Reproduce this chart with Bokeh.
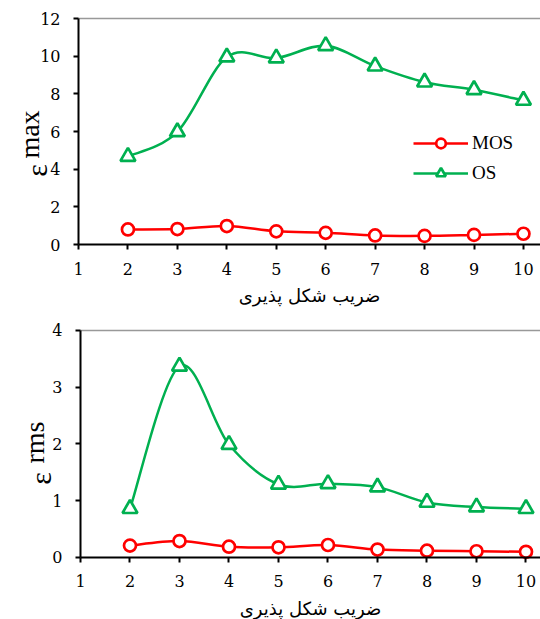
import math
from bokeh.plotting import figure
from bokeh.models import (ColumnDataSource, FixedTicker, Label, Legend, LegendItem, Range1d,
                          LinearAxis)
from bokeh.layouts import column
from bokeh.embed import file_html
from bokeh.resources import INLINE

# ---------------- data ----------------
ductility = [2, 3, 4, 5, 6, 7, 8, 9, 10]
x_ticks = [1, 2, 3, 4, 5, 6, 7, 8, 9, 10]

eps_max_mos = [0.80, 0.82, 0.98, 0.70, 0.62, 0.48, 0.46, 0.51, 0.57]
eps_max_os = [4.67, 5.98, 9.95, 9.90, 10.55, 9.47, 8.62, 8.22, 7.65]

eps_rms_mos = [0.21, 0.29, 0.19, 0.18, 0.22, 0.14, 0.12, 0.11, 0.10]
eps_rms_os = [0.86, 3.37, 1.99, 1.29, 1.30, 1.24, 0.97, 0.89, 0.86]

top_y_ticks = [0, 2, 4, 6, 8, 10, 12]
bottom_y_ticks = [0, 1, 2, 3, 4]

x_label = "ضریب شکل پذیری"
series_names = ["MOS", "OS"]
y_symbol = "ε"
y_subscripts = ["max", "rms"]

RED = "#FF0000"
GREEN = "#00B050"
SERIF = "Liberation Serif"
TICK_FONT = "DejaVu Serif"
X_START = 1
WIDTH = 540


def smooth_segments(xs, ys):
    """Catmull-Rom style cubic Bezier control points (Excel-like smoothing)."""
    n = len(xs)
    d = dict(x0=[], y0=[], x1=[], y1=[], cx0=[], cy0=[], cx1=[], cy1=[])
    for i in range(n - 1):
        im = max(i - 1, 0)
        ip = min(i + 2, n - 1)
        d["x0"].append(xs[i]); d["y0"].append(ys[i])
        d["x1"].append(xs[i + 1]); d["y1"].append(ys[i + 1])
        d["cx0"].append(xs[i] + (xs[i + 1] - xs[im]) / 6.0)
        d["cy0"].append(ys[i] + (ys[i + 1] - ys[im]) / 6.0)
        d["cx1"].append(xs[i + 1] - (xs[ip] - xs[i]) / 6.0)
        d["cy1"].append(ys[i + 1] - (ys[ip] - ys[i]) / 6.0)
    return ColumnDataSource(d)


def style_axis(ax):
    ax.axis_line_color = "black"
    ax.axis_line_width = 2
    ax.major_tick_line_color = "black"
    ax.major_tick_line_width = 2
    ax.major_tick_out = 5
    ax.major_tick_in = 0
    ax.minor_tick_line_color = None
    ax.major_label_text_font = TICK_FONT
    ax.major_label_text_font_size = "16px"
    ax.major_label_text_color = "black"
    ax.major_label_standoff = 13


def make_fig(height, mos, os_, y_end, y_ticks, x_range, y_range,
             sym, sub, sub_text, legend_loc=None):
    p = figure(width=WIDTH, height=height, min_border=0,
               x_range=Range1d(*x_range), y_range=Range1d(*y_range),
               x_axis_location=None, y_axis_location=None,
               output_backend="svg", toolbar_location=None)
    p.outline_line_color = None
    p.grid.visible = False
    p.background_fill_color = "white"
    p.border_fill_color = "white"

    x_end = x_range[1]

    # thin grey top frame line, from the y axis to the right edge
    p.segment(x0=[X_START], y0=[y_end], x1=[x_end], y1=[y_end],
              line_color="#999999", line_width=1.5)

    yax = LinearAxis(fixed_location=X_START, ticker=FixedTicker(ticks=y_ticks),
                     bounds=(0, y_end))
    style_axis(yax)
    p.add_layout(yax, "left")

    xax = LinearAxis(fixed_location=0, ticker=FixedTicker(ticks=x_ticks),
                     bounds=(X_START, x_end))
    style_axis(xax)
    xax.axis_label = x_label
    xax.axis_label_text_font = "DejaVu Sans"
    xax.axis_label_text_font_size = "18px"
    xax.axis_label_text_font_style = "normal"
    xax.axis_label_text_color = "black"
    xax.axis_label_standoff = 7
    p.add_layout(xax, "below")

    src_mos = smooth_segments(ductility, mos)
    src_os = smooth_segments(ductility, os_)
    r1 = p.bezier(x0="x0", y0="y0", x1="x1", y1="y1", cx0="cx0", cy0="cy0",
                  cx1="cx1", cy1="cy1", source=src_mos, line_color=RED, line_width=2.5)
    s1 = p.scatter(ductility, mos, marker="circle", size=12, line_color=RED,
                   line_width=2.7, fill_color="white")
    r2 = p.bezier(x0="x0", y0="y0", x1="x1", y1="y1", cx0="cx0", cy0="cy0",
                  cx1="cx1", cy1="cy1", source=src_os, line_color=GREEN, line_width=2.5)
    s2 = p.scatter(ductility, os_, marker="triangle", size=15, line_color=GREEN,
                   line_width=2.7, fill_color="white")

    if legend_loc is not None:
        leg = Legend(items=[LegendItem(label=series_names[0], renderers=[r1, s1]),
                            LegendItem(label=series_names[1], renderers=[r2, s2])],
                     location=legend_loc, border_line_color=None,
                     background_fill_alpha=0, padding=0, margin=0, spacing=6,
                     glyph_width=55, glyph_height=24, label_standoff=4,
                     label_text_font=SERIF, label_text_font_size="19px",
                     label_text_color="black")
        p.add_layout(leg)

    # y-axis title: epsilon followed by raised text (rotated, baseline-anchored)
    p.add_layout(Label(x=sym[0], y=height - sym[1], x_units="screen", y_units="screen",
                       text=y_symbol, angle=math.pi / 2, text_font=SERIF,
                       text_font_size=sym[2], text_color="black",
                       text_align="center", text_baseline="alphabetic"))
    p.add_layout(Label(x=sub[0], y=height - sub[1], x_units="screen", y_units="screen",
                       text=sub_text, angle=math.pi / 2, text_font=SERIF,
                       text_font_size=sub[2], text_color="black",
                       text_align="center", text_baseline="alphabetic"))
    return p


# top: x=1 at 78px, x=10 at 523px; y=0 at 244px, y=12 at 18px (height 310)
top_fig = make_fig(310, eps_max_mos, eps_max_os, 12, top_y_ticks,
                   (-0.578, 10.345), (-3.504, 12.956),
                   (36, 170, "30px"), (29, 134, "28px"), y_subscripts[0],
                   legend_loc=(413, 125))
# bottom: x=1 at 80px, x=10 at 525.7px; y=0 at 247px, y=4 at 20px (height 309)
bottom_fig = make_fig(309, eps_rms_mos, eps_rms_os, 4, bottom_y_ticks,
                      (-0.616, 10.293), (-1.0925, 4.352),
                      (40, 168, "30px"), (34, 132, "28px"), y_subscripts[1])

layout = column(top_fig, bottom_fig, spacing=0)
open("out.html", "w").write(file_html(layout, INLINE))
